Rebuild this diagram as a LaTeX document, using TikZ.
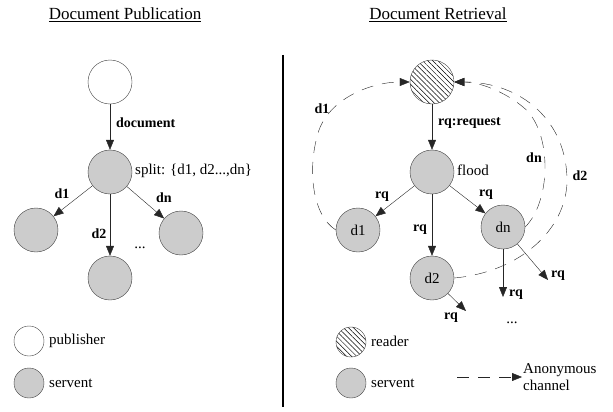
\documentclass[tikz,border=0pt]{standalone}
\usepackage{fontspec}
\setmainfont{Liberation Serif}
\usetikzlibrary{arrows.meta,patterns.meta}
\definecolor{servgray}{RGB}{204,204,204}

\begin{document}
\begin{tikzpicture}[x=1pt, y=-1pt,
    state/.style={circle, draw=black!75, minimum size=44pt, inner sep=0pt, font=\fontsize{15}{17}\selectfont},
    legcirc/.style={circle, draw=black!75, minimum size=30pt, inner sep=0pt},
    lbl/.style={font=\bfseries\fontsize{14}{16}\selectfont, inner sep=1pt},
    txt/.style={font=\fontsize{15}{17}\selectfont, inner sep=1pt},
    ttl/.style={font=\fontsize{17}{20}\selectfont},
    hatch/.style={pattern={Lines[angle=-45, distance=3.6pt, line width=0.5pt]}},
    arr/.style={-{Triangle[length=10pt, width=8pt]}, draw=black!85},
    anon/.style={arr, dash pattern=on 12pt off 9pt}]

    \useasboundingbox (0,0) rectangle (613,412);

    % Titulos
    \node[ttl] (tpub) at (125,15) {\underline{Document Publication}};
    \node[ttl] (tret) at (438,15) {\underline{Document Retrieval}};

    % Separador
    \draw[line width=2.5pt] (283,55) -- (283,407);

    % Publicacion: publisher y servents
    \node[state] (pub) at (110,82) {};
    \node[state, fill=servgray] (split) at (110,172) {};
    \node[state, fill=servgray] (pd1) at (36,230) {};
    \node[state, fill=servgray] (pd2) at (110,278) {};
    \node[state, fill=servgray] (pdn) at (181,233) {};

    \draw[arr] (pub) -- (split);
    \draw[arr] (split) -- (pd1);
    \draw[arr] (split) -- (pd2);
    \draw[arr] (split) -- (pdn);

    \node[lbl, anchor=west] (ldoc) at (115,123) {document};
    \node[txt, anchor=west] (lsplit) at (134,171) {split: \{d1, d2...,dn\}};
    \node[lbl] (lpd1) at (62,194) {d1};
    \node[lbl] (lpdn) at (164,198) {dn};
    \node[lbl] (lpd2) at (99,234) {d2};
    \node[txt] (lpdots) at (140,248) {...};

    % Recuperacion: reader y servents
    \node[state, hatch] (reader) at (432,82) {};
    \node[state, fill=servgray] (flood) at (432,172) {};
    \node[state, fill=servgray] (rd1) at (358,230) {d1};
    \node[state, fill=servgray] (rd2) at (432,278) {d2};
    \node[state, fill=servgray] (rdn) at (503,227) {dn};

    \coordinate (e1) at (503,297);
    \coordinate (e2) at (548,280);
    \coordinate (e3) at (466,311);

    \draw[arr] (reader) -- (flood);
    \draw[arr] (flood) -- (rd1);
    \draw[arr] (flood) -- (rd2);
    \draw[arr] (flood) -- (rdn);
    \draw[arr] (rdn) -- (e1);
    \draw[arr] (rdn) -- (e2);
    \draw[arr] (rd2) -- (e3);

    \node[lbl, anchor=west] (lreq) at (437,123) {rq:request};
    \node[txt, anchor=west] (lflood) at (456,170) {flood};
    \node[lbl] (lrq1) at (382,197) {rq};
    \node[lbl] (lrq2) at (486,195) {rq};
    \node[lbl] (lrq3) at (420,230) {rq};
    \node[lbl] (lrq4) at (516,295) {rq};
    \node[lbl] (lrq5) at (558,276) {rq};
    \node[lbl] (lrq6) at (451,318) {rq};
    \node[txt] (lrdots) at (512,323) {...};

    % Canales anonimos de vuelta al reader
    \draw[anon] (rd1.west) .. controls (312,215) and (308,170) .. (317,137)
        .. controls (325,100) and (370,82) .. (reader.west);
    \draw[anon] (rdn.east) .. controls (552,200) and (552,130) .. (523,107)
        .. controls (505,92) and (480,82) .. (reader.east);
    \draw[anon] (rd2.east) .. controls (520,272) and (565,230) .. (567,183)
        .. controls (568,120) and (520,82) .. (reader.east);

    \node[lbl] (lad1) at (322,109) {d1};
    \node[lbl] (ladn) at (534,158) {dn};
    \node[lbl] (lad2) at (580,176) {d2};

    % Leyendas
    \node[legcirc] (kpub) at (29,341) {};
    \node[legcirc, fill=servgray] (kserv) at (29,383) {};
    \node[txt, anchor=west] (tkpub) at (48,341) {publisher};
    \node[txt, anchor=west] (tkserv) at (48,383) {servent};

    \node[legcirc, hatch] (kread) at (351,342) {};
    \node[legcirc, fill=servgray] (kserv2) at (351,383) {};
    \node[txt, anchor=west] (tkread) at (370,341) {reader};
    \node[txt, anchor=west] (tkserv2) at (370,383) {servent};

    \coordinate (a1) at (457,377);
    \coordinate (a2) at (522,377);
    \draw[anon] (a1) -- (a2);
    \node[txt, anchor=west, align=left] (tanon) at (522,377) {Anonymous\\channel};

\end{tikzpicture}
\end{document}
